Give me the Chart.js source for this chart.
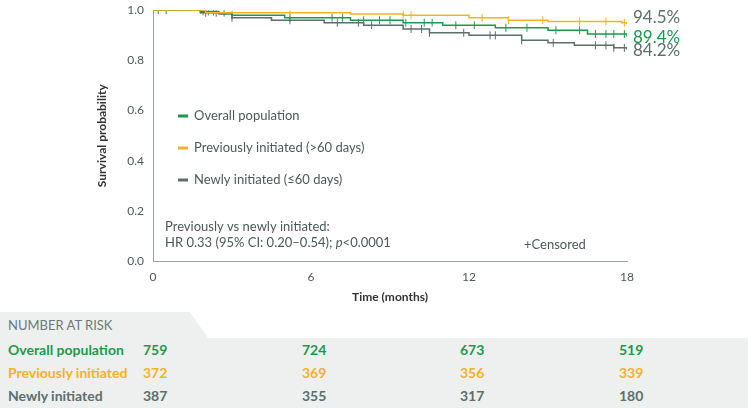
<!DOCTYPE html>
<html>
<head>
<meta charset="utf-8">
<script src="https://cdn.jsdelivr.net/npm/chart.js@4"></script>
<style>
body { margin: 0; width: 750px; height: 408px; background: #fff; font-family: Lato, "Open Sans", sans-serif; overflow: hidden; }
#wrap { position: relative; width: 750px; height: 312px; }
#risk { position: absolute; top: 312px; left: 0; width: 750px; height: 96px; }
.tab { position: absolute; left: 0; top: 0; width: 200px; height: 26px; background: #eef0f0; clip-path: polygon(0 0, 190px 0, 208px 26px, 0 26px); color: #6b7a78; font-size: 13px; line-height: 26px; padding-left: 8px; }
.body { position: absolute; left: 0; top: 26px; width: 748px; height: 70px; background: #eef0f0; }
.row { position: absolute; left: 8px; font-size: 14px; font-weight: bold; }
.n { position: absolute; font-size: 14px; font-weight: bold; }
</style>
</head>
<body>
<div id="wrap"><canvas id="km" width="750" height="312"></canvas></div>
<div id="risk">
  <div class="tab">NUMBER AT RISK</div>
  <div class="body" id="riskBody"></div>
</div>
<script>
const months = [0, 6, 12, 18];
const groups = ['Overall population', 'Previously initiated', 'Newly initiated'];
const riskOverall = [759, 724, 673, 519];
const riskPrev = [372, 369, 356, 339];
const riskNew = [387, 355, 317, 180];

const colGreen = '#1b9a4b', colYellow = '#f4b320', colGray = '#5b6f6b';

// step curves (time in months, survival probability)
const prevX = [0, 2, 6.5, 7.5, 9.5, 12, 13.5, 15, 17.8, 18];
const prevY = [1.0, 0.99, 0.99, 0.985, 0.98, 0.97, 0.96, 0.955, 0.95, 0.945];
const overX = [0, 1.8, 2.5, 3, 5, 7.5, 9.5, 11, 13, 15, 16.5, 18];
const overY = [1.0, 0.995, 0.99, 0.98, 0.97, 0.96, 0.95, 0.94, 0.93, 0.92, 0.905, 0.894];
const newX = [0, 1.8, 2.5, 3, 4.5, 6.5, 8, 9.5, 10.5, 12, 14, 15, 16, 17.5, 18];
const newY = [1.0, 0.99, 0.985, 0.97, 0.96, 0.95, 0.94, 0.925, 0.91, 0.9, 0.88, 0.87, 0.86, 0.85, 0.842];

// censor tick times
const prevCens = [1.8, 5.2, 9.5, 9.8, 12.5, 13.5, 14.8, 16.2, 17.2, 17.9];
const overCens = [0.2, 0.5, 1.9, 2.1, 2.3, 2.7, 3.0, 5.2, 6.8, 7.2, 8.0, 8.6, 9.0, 9.6, 10.3, 10.6, 11.5, 12.2, 13.4, 14.2, 15.3, 16.2, 16.8, 17.2, 17.5, 17.9];
const newCens = [2.0, 2.4, 3.0, 5.2, 7.0, 7.8, 8.3, 9.8, 10.2, 10.5, 11.8, 12.8, 13.0, 14.0, 15.2, 16.8, 17.2, 17.5, 17.9];

function pts(xs, ys) { return xs.map((x, i) => ({ x: x, y: ys[i] })); }
function censPts(times, xs, ys) {
  return times.map(t => {
    let y = ys[0];
    for (let i = 0; i < xs.length; i++) if (xs[i] <= t) y = ys[i];
    return { x: t, y: y };
  });
}
function curve(data, color) {
  return { type: 'line', data: data, borderColor: color, borderWidth: 1.5, stepped: 'before', pointRadius: 0, fill: false };
}
function cens(data, color) {
  return { type: 'scatter', data: data, borderColor: color, backgroundColor: color, pointStyle: 'line', rotation: 90, pointRadius: 4, borderWidth: 1 };
}

const labels = {
  id: 'labels',
  afterDraw(chart) {
    const c = chart.ctx;
    c.save();
    c.textBaseline = 'middle';
    c.font = '13px Lato, sans-serif';
    [[colGreen, 'Overall population', 116], [colYellow, 'Previously initiated (>60 days)', 148], [colGray, 'Newly initiated (\u226460 days)', 180]].forEach(([col, txt, y]) => {
      c.fillStyle = col; c.fillRect(178, y - 1.5, 10, 3);
      c.fillStyle = '#4a5a58'; c.fillText(txt, 194, y);
    });
    c.fillStyle = '#4a5a58';
    c.fillText('Previously vs newly initiated:', 165, 227);
    c.fillText('HR 0.33 (95% CI: 0.20\u20130.54); ', 165, 243);
    const w = c.measureText('HR 0.33 (95% CI: 0.20\u20130.54); ').width;
    c.font = 'italic 13px Lato, sans-serif'; c.fillText('p', 165 + w, 243);
    const pw = c.measureText('p').width;
    c.font = '13px Lato, sans-serif'; c.fillText('<0.0001', 165 + w + pw, 243);
    c.fillText('+Censored', 524, 245);
    c.font = '17px Lato, sans-serif';
    c.fillStyle = colGray; c.fillText('94.5%', 633, 18);
    c.fillStyle = colGreen; c.fillText('89.4%', 633, 38);
    c.fillStyle = colGray; c.fillText('84.2%', 633, 51);
    c.restore();
  }
};

new Chart(document.getElementById('km'), {
  data: {
    datasets: [
      curve(pts(prevX, prevY), colYellow),
      curve(pts(overX, overY), colGreen),
      curve(pts(newX, newY), colGray),
      cens(censPts(prevCens, prevX, prevY), colYellow),
      cens(censPts(overCens, overX, overY), colGreen),
      cens(censPts(newCens, newX, newY), colGray)
    ]
  },
  options: {
    responsive: false,
    animation: false,
    layout: { padding: { top: 10, right: 123, left: 95, bottom: 4 } },
    plugins: { legend: { display: false }, tooltip: { enabled: false } },
    scales: {
      x: {
        type: 'linear', min: 0, max: 18,
        afterBuildTicks: s => { s.ticks = months.map(v => ({ value: v })); },
        grid: { display: false, drawTicks: true, tickLength: 6, tickColor: '#9aa5a3' },
        border: { color: '#9aa5a3' },
        ticks: { color: '#4a5a58', font: { size: 12, family: 'Lato' } },
        title: { display: true, text: 'Time (months)', color: '#333', font: { size: 12, weight: 'bold', family: 'Lato' }, padding: { top: 2 } }
      },
      y: {
        min: 0, max: 1,
        afterFit: s => { s.width = 58; },
        ticks: { stepSize: 0.2, color: '#4a5a58', font: { size: 12, family: 'Lato' }, callback: v => v.toFixed(1) },
        grid: { display: false, tickLength: 6, tickColor: '#9aa5a3' },
        border: { color: '#9aa5a3' },
        title: { display: true, text: 'Survival probability', color: '#333', font: { size: 12, weight: 'bold', family: 'Lato' }, padding: 0 }
      }
    }
  },
  plugins: [labels]
});

// number at risk table
const body = document.getElementById('riskBody');
const rowData = [[riskOverall, colGreen], [riskPrev, colYellow], [riskNew, colGray]];
const colX = [143, 302, 460, 619];
rowData.forEach(([vals, col], r) => {
  const top = 3 + r * 23;
  body.innerHTML += `<div class="row" style="top:${top}px;color:${col}">${groups[r]}</div>`;
  vals.forEach((v, i) => {
    body.innerHTML += `<div class="n" style="top:${top}px;left:${colX[i]}px;color:${col}">${v}</div>`;
  });
});
</script>
</body>
</html>
